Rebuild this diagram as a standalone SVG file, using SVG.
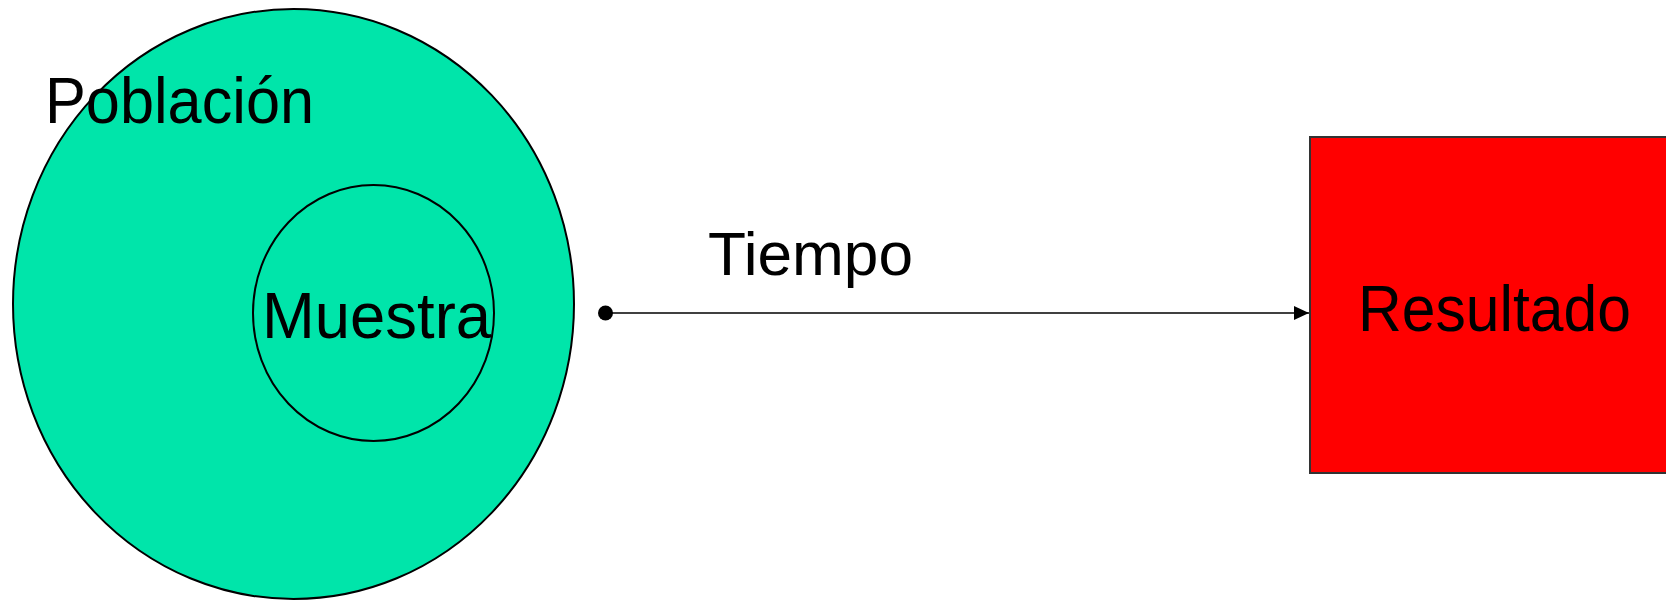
<svg xmlns="http://www.w3.org/2000/svg" width="1666" height="600" viewBox="0 0 1666 600">
  <style>
    .label { font-family: "Liberation Sans", Arial, sans-serif; fill: #000; }
    .pop { fill: #00E5AA; stroke: #000; stroke-width: 2; }
    .box { fill: #FF0000; stroke: #333; stroke-width: 2; }
    .conn { stroke: #000; stroke-width: 1.6; fill: none; }
  </style>
  <defs>
    <marker id="arrowhead" viewBox="0 0 10 10" refX="10" refY="5" markerWidth="15" markerHeight="14" markerUnits="userSpaceOnUse" orient="auto" preserveAspectRatio="none">
      <path d="M0,0 L10,5 L0,10 z" fill="#000"/>
    </marker>
  </defs>
  <rect width="1666" height="600" fill="#fff"/>

  <g id="poblacion">
    <ellipse class="pop" cx="293.5" cy="304" rx="280.5" ry="295"/>
    <text class="label" x="45" y="123" font-size="64" textLength="269" lengthAdjust="spacingAndGlyphs">Población</text>
  </g>

  <g id="muestra">
    <ellipse class="pop" cx="373.5" cy="313" rx="120.5" ry="128"/>
    <text class="label" x="262" y="338" font-size="64" textLength="229" lengthAdjust="spacingAndGlyphs">Muestra</text>
  </g>

  <g id="resultado">
    <rect class="box" x="1310" y="137" width="360" height="336"/>
    <text class="label" x="1358" y="331" font-size="64" textLength="273" lengthAdjust="spacingAndGlyphs">Resultado</text>
  </g>

  <g id="connectors">
    <circle cx="605.5" cy="313" r="7.5" fill="#000"/>
    <line class="conn" x1="605.5" y1="313" x2="1309" y2="313" marker-end="url(#arrowhead)"/>
    <text class="label" x="708" y="275" font-size="62" textLength="205" lengthAdjust="spacingAndGlyphs">Tiempo</text>
  </g>
</svg>
